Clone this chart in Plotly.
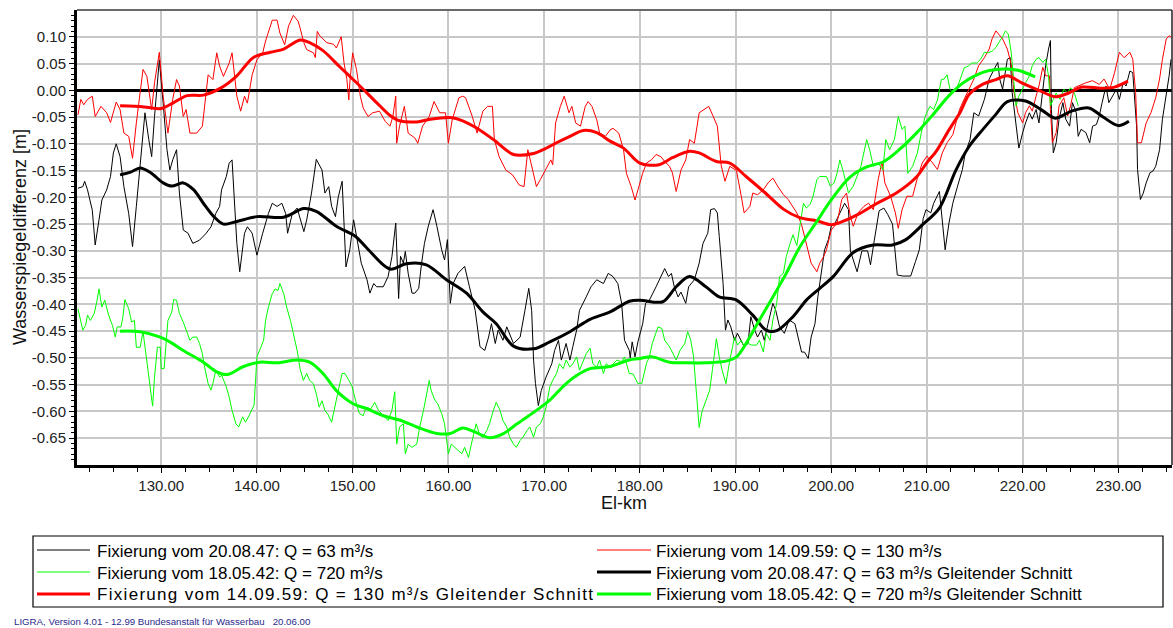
import numpy as np
import plotly.graph_objects as go

FONT = "Liberation Sans, Arial, sans-serif"

# ---------------------------------------------------------------------------
# Wasserspiegeldifferenz [m] über El-km, Einzelwerte (km, Differenz)
# ---------------------------------------------------------------------------
FIX_1947 = [
    (121.3, -0.183), (121.8, -0.180), (122.0, -0.170), (122.3, -0.186), (122.8, -0.224),
    (123.1, -0.289), (123.5, -0.242), (123.8, -0.205), (124.3, -0.186), (124.7, -0.161),
    (125.0, -0.117), (125.3, -0.100), (125.7, -0.124), (126.1, -0.180), (126.6, -0.230),
    (127.0, -0.292), (127.4, -0.217), (128.0, -0.099), (128.3, -0.042), (128.7, -0.092),
    (129.0, -0.124), (129.3, -0.049), (129.8, 0.057), (130.2, -0.024), (130.6, -0.111),
    (130.9, -0.149), (131.2, -0.130), (131.6, -0.111), (131.9, -0.192), (132.3, -0.261),
    (132.8, -0.267), (133.3, -0.286), (134.0, -0.280), (134.7, -0.267), (135.2, -0.255),
    (135.7, -0.230), (136.1, -0.217), (136.3, -0.186), (136.8, -0.161), (137.1, -0.136),
    (137.4, -0.130), (137.9, -0.286), (138.2, -0.339), (138.7, -0.267), (139.0, -0.255),
    (139.5, -0.267), (140.0, -0.308), (140.6, -0.267), (140.9, -0.248), (141.2, -0.230),
    (141.6, -0.211), (142.1, -0.217), (142.6, -0.211), (143.0, -0.230), (143.2, -0.267),
    (143.7, -0.230), (144.2, -0.220), (144.9, -0.264), (145.2, -0.242), (145.7, -0.192),
    (146.2, -0.129), (146.8, -0.149), (147.1, -0.192), (147.5, -0.180), (147.8, -0.217),
    (148.2, -0.236), (148.5, -0.199), (148.9, -0.170), (149.3, -0.330), (149.7, -0.298),
    (150.1, -0.242), (150.4, -0.273), (150.9, -0.323), (151.5, -0.354), (151.8, -0.379),
    (152.2, -0.361), (152.5, -0.367), (153.2, -0.367), (153.7, -0.348), (154.1, -0.311),
    (154.5, -0.248), (154.8, -0.389), (155.0, -0.310), (155.3, -0.323), (155.5, -0.301),
    (155.8, -0.342), (156.2, -0.379), (156.5, -0.379), (156.9, -0.370), (157.2, -0.323),
    (157.5, -0.286), (157.9, -0.254), (158.4, -0.223), (158.8, -0.254), (159.3, -0.298),
    (159.6, -0.317), (159.9, -0.279), (160.2, -0.398), (160.5, -0.361), (161.0, -0.342),
    (161.7, -0.329), (162.2, -0.367), (162.8, -0.411), (163.3, -0.479), (163.8, -0.486),
    (164.2, -0.461), (164.5, -0.436), (164.9, -0.473), (165.2, -0.448), (165.7, -0.467),
    (166.1, -0.442), (166.8, -0.473), (167.5, -0.461), (168.0, -0.411), (168.4, -0.370),
    (168.7, -0.411), (168.9, -0.504), (169.1, -0.548), (169.4, -0.589), (169.7, -0.561),
    (170.2, -0.536), (170.8, -0.511), (171.1, -0.486), (171.5, -0.467), (171.8, -0.504),
    (172.3, -0.473), (172.7, -0.504), (173.0, -0.479), (173.4, -0.448), (173.7, -0.411),
    (174.1, -0.398), (174.4, -0.386), (174.9, -0.367), (175.5, -0.354), (176.2, -0.361),
    (176.7, -0.342), (177.2, -0.348), (177.7, -0.361), (178.1, -0.398), (178.4, -0.467),
    (178.9, -0.486), (179.0, -0.500), (179.2, -0.470), (179.5, -0.498), (179.8, -0.470),
    (180.3, -0.436), (180.6, -0.398), (181.0, -0.392), (181.7, -0.367), (182.2, -0.348),
    (182.6, -0.333), (183.0, -0.348), (183.3, -0.342), (183.6, -0.367), (184.0, -0.386),
    (184.3, -0.377), (184.8, -0.398), (185.1, -0.367), (185.7, -0.354), (186.2, -0.323),
    (186.6, -0.286), (187.1, -0.267), (187.4, -0.223), (187.8, -0.221), (188.1, -0.229),
    (188.3, -0.273), (188.7, -0.361), (188.95, -0.448), (189.2, -0.429), (189.5, -0.442),
    (189.9, -0.467), (190.2, -0.454), (190.6, -0.467), (190.9, -0.479), (191.3, -0.473),
    (191.6, -0.423), (192.0, -0.448), (192.3, -0.461), (192.7, -0.448), (193.0, -0.467),
    (193.4, -0.436), (193.9, -0.398), (194.2, -0.411), (194.6, -0.442), (195.1, -0.454),
    (195.6, -0.429), (196.2, -0.436), (196.5, -0.461), (196.9, -0.489), (197.2, -0.489),
    (197.6, -0.501), (197.9, -0.461), (198.3, -0.436), (198.6, -0.386), (199.0, -0.336),
    (199.3, -0.298), (199.7, -0.279), (200.0, -0.254), (200.4, -0.248), (200.7, -0.236),
    (201.1, -0.223), (201.4, -0.211), (201.8, -0.223), (202.0, -0.300), (202.7, -0.339),
    (203.2, -0.300), (203.8, -0.300), (204.1, -0.326), (204.5, -0.280), (205.0, -0.225),
    (205.5, -0.220), (205.9, -0.232), (206.4, -0.250), (206.9, -0.345), (207.5, -0.347),
    (208.3, -0.347), (208.8, -0.320), (209.2, -0.298), (209.6, -0.240), (209.9, -0.223),
    (210.4, -0.229), (210.7, -0.211), (211.3, -0.189), (211.6, -0.248), (211.9, -0.298),
    (212.3, -0.248), (212.7, -0.211), (213.2, -0.179), (213.7, -0.148), (214.0, -0.117),
    (214.5, -0.092), (214.9, -0.042), (215.4, -0.048), (216.0, -0.017), (216.5, 0.021),
    (217.0, 0.039), (217.4, 0.052), (217.6, 0.021), (217.9, 0.002), (218.4, 0.058),
    (218.7, 0.061), (218.9, -0.004), (219.3, -0.067), (219.6, -0.108), (220.0, -0.079),
    (220.3, -0.061), (220.7, -0.042), (221.0, -0.054), (221.4, -0.036), (221.7, -0.061),
    (222.1, 0.000), (222.4, 0.046), (222.7, 0.077), (222.9, 0.093), (223.0, -0.036),
    (223.2, -0.117), (223.5, -0.098), (223.8, -0.054), (224.2, -0.023), (224.5, -0.054),
    (224.9, -0.067), (225.2, -0.023), (225.6, -0.042), (225.8, -0.086), (226.1, -0.073),
    (226.6, -0.079), (227.0, -0.098), (227.3, -0.067), (227.7, -0.064), (228.0, -0.048),
    (228.3, -0.023), (228.7, 0.008), (229.0, -0.023), (229.4, -0.011), (229.8, 0.002),
    (230.1, -0.017), (230.5, 0.014), (230.8, 0.008), (231.2, 0.036), (231.5, 0.033),
    (231.9, -0.067), (232.0, -0.148), (232.3, -0.204), (232.6, -0.192), (232.9, -0.173),
    (233.3, -0.154), (233.6, -0.151), (233.9, -0.142), (234.3, -0.111), (234.6, -0.054),
    (235.0, -0.011), (235.3, 0.027), (235.5, 0.058),
]

FIX_1959 = [
    (121.3, -0.046), (121.6, -0.017), (121.9, -0.027), (122.3, -0.017), (122.8, -0.011),
    (123.1, -0.049), (123.7, -0.030), (124.3, -0.042), (124.7, -0.060), (125.3, -0.022),
    (125.7, -0.036), (126.1, -0.080), (126.6, -0.086), (127.0, -0.127), (127.4, -0.061),
    (128.1, 0.039), (128.5, 0.026), (129.0, -0.036), (129.3, 0.014), (129.8, 0.071),
    (130.2, -0.011), (130.7, -0.080), (131.2, -0.017), (131.6, 0.020), (131.9, 0.008),
    (132.3, -0.049), (132.6, -0.036), (133.0, -0.080), (133.7, -0.080), (134.3, -0.067),
    (134.9, 0.029), (135.4, 0.020), (135.8, 0.070), (136.1, 0.045), (136.5, 0.026),
    (137.1, 0.051), (137.4, 0.070), (137.9, -0.011), (138.3, -0.039), (138.7, -0.011),
    (139.0, -0.024), (139.5, 0.029), (140.0, 0.057), (140.6, 0.070), (140.9, 0.092),
    (141.6, 0.131), (142.1, 0.131), (142.4, 0.107), (142.9, 0.085), (143.3, 0.120),
    (143.8, 0.140), (144.3, 0.129), (144.5, 0.117), (144.9, 0.089), (145.2, 0.076),
    (145.9, 0.070), (146.1, 0.061), (146.3, 0.110), (146.6, 0.101), (147.3, 0.089),
    (148.0, 0.086), (148.3, 0.079), (148.8, 0.100), (149.1, 0.051), (149.4, 0.020),
    (149.6, -0.018), (149.7, 0.014), (150.0, 0.070), (150.4, 0.039), (150.8, -0.011),
    (151.1, -0.033), (151.6, -0.049), (152.1, -0.042), (152.8, -0.039), (153.4, -0.058),
    (153.9, -0.067), (154.2, -0.049), (154.5, -0.011), (154.6, -0.099), (154.9, -0.067),
    (155.4, -0.030), (155.8, -0.080), (156.5, -0.089), (156.8, -0.099), (157.3, -0.067),
    (158.0, -0.049), (158.5, -0.021), (159.1, -0.042), (159.7, -0.042), (160.0, -0.099),
    (160.4, -0.055), (161.1, -0.014), (161.5, -0.011), (161.8, -0.014), (162.5, -0.049),
    (163.0, -0.080), (163.6, -0.039), (164.1, -0.030), (164.6, -0.030), (164.8, -0.092),
    (165.3, -0.124), (166.0, -0.149), (166.7, -0.158), (167.4, -0.177), (167.9, -0.180),
    (168.3, -0.111), (168.8, -0.149), (169.2, -0.180), (169.6, -0.167), (170.1, -0.149),
    (170.7, -0.130), (170.9, -0.139), (171.2, -0.061), (171.7, -0.030), (172.1, -0.011),
    (172.6, -0.042), (172.9, -0.030), (173.3, -0.061), (173.8, -0.067), (174.3, -0.030),
    (174.6, -0.021), (175.0, -0.030), (175.5, -0.055), (175.8, -0.080), (176.4, -0.086),
    (176.9, -0.074), (177.2, -0.071), (177.8, -0.080), (178.3, -0.111), (178.6, -0.155),
    (179.1, -0.180), (179.5, -0.205), (179.8, -0.186), (180.3, -0.155), (180.7, -0.136),
    (181.2, -0.130), (181.7, -0.120), (182.2, -0.124), (182.6, -0.133), (183.1, -0.142),
    (183.4, -0.154), (183.8, -0.189), (184.3, -0.149), (184.8, -0.130), (185.2, -0.092),
    (185.7, -0.099), (186.2, -0.042), (186.7, -0.036), (187.2, -0.030), (187.6, -0.046),
    (188.1, -0.067), (188.5, -0.140), (188.9, -0.170), (189.4, -0.142), (190.1, -0.150),
    (190.6, -0.198), (190.9, -0.229), (191.5, -0.217), (191.8, -0.192), (192.3, -0.195),
    (192.9, -0.186), (193.4, -0.173), (193.9, -0.164), (194.4, -0.179), (195.0, -0.195),
    (195.5, -0.204), (196.0, -0.217), (196.4, -0.229), (196.9, -0.251), (197.4, -0.286),
    (197.9, -0.323), (198.5, -0.339), (198.8, -0.323), (199.2, -0.311), (199.5, -0.298),
    (200.0, -0.261), (200.6, -0.248), (201.1, -0.204), (201.6, -0.192), (202.0, -0.236),
    (202.3, -0.254), (202.8, -0.229), (203.4, -0.217), (203.9, -0.211), (204.4, -0.223),
    (204.9, -0.167), (205.3, -0.133), (205.6, -0.173), (206.2, -0.198), (206.7, -0.229),
    (207.0, -0.258), (207.4, -0.223), (207.9, -0.198), (208.5, -0.198), (209.0, -0.164),
    (209.5, -0.136), (210.0, -0.123), (210.6, -0.136), (211.1, -0.148), (211.6, -0.117),
    (212.1, -0.098), (212.7, -0.083), (213.0, -0.064), (213.4, -0.036), (213.9, -0.016),
    (214.4, 0.002), (214.9, 0.021), (215.4, 0.046), (216.0, 0.061), (216.5, 0.077),
    (216.8, 0.096), (217.2, 0.111), (217.5, 0.105), (217.9, 0.096), (218.4, 0.077),
    (218.8, 0.049), (219.1, -0.004), (219.5, -0.042), (220.0, -0.061), (220.3, -0.042),
    (220.7, -0.029), (221.0, -0.039), (221.4, -0.011), (221.7, 0.008), (222.1, 0.043),
    (222.4, 0.027), (222.8, 0.027), (222.9, -0.036), (223.1, -0.098), (223.5, -0.079),
    (223.8, -0.029), (224.3, -0.014), (224.7, -0.048), (225.0, -0.029), (225.4, 0.005),
    (225.9, 0.009), (226.6, 0.014), (227.3, 0.018), (228.0, 0.011), (228.5, 0.021),
    (229.1, 0.002), (229.6, 0.033), (230.1, 0.071), (230.6, 0.061), (231.2, 0.071),
    (231.5, 0.058), (231.8, -0.004), (232.0, -0.098), (232.4, -0.098), (232.9, -0.061),
    (233.4, -0.042), (233.9, -0.014), (234.3, 0.021), (234.6, 0.058), (235.0, 0.096),
    (235.3, 0.102), (235.5, 0.099),
]

FIX_1942 = [
    (121.3, -0.408), (121.8, -0.448), (122.1, -0.439), (122.3, -0.420), (122.6, -0.430),
    (123.0, -0.417), (123.3, -0.392), (123.5, -0.371), (123.8, -0.405), (124.1, -0.392),
    (124.5, -0.420), (124.9, -0.439), (125.2, -0.461), (125.4, -0.442), (125.8, -0.442),
    (126.0, -0.423), (126.2, -0.391), (126.6, -0.408), (126.9, -0.433), (127.2, -0.430),
    (127.4, -0.480), (127.8, -0.480), (128.1, -0.451), (128.5, -0.504), (128.8, -0.548),
    (129.1, -0.590), (129.3, -0.536), (129.6, -0.480), (129.9, -0.480), (130.0, -0.520),
    (130.3, -0.520), (130.7, -0.430), (131.1, -0.414), (131.3, -0.391), (131.6, -0.392),
    (131.9, -0.417), (132.3, -0.433), (132.6, -0.448), (133.0, -0.467), (133.3, -0.461),
    (133.7, -0.461), (134.0, -0.473), (134.3, -0.492), (134.5, -0.514), (134.9, -0.548),
    (135.2, -0.560), (135.4, -0.548), (135.7, -0.523), (136.1, -0.536), (136.3, -0.532),
    (136.8, -0.554), (137.1, -0.573), (137.4, -0.598), (137.8, -0.623), (138.1, -0.629),
    (138.5, -0.610), (138.8, -0.620), (139.2, -0.607), (139.7, -0.588), (140.0, -0.498),
    (140.4, -0.480), (140.7, -0.467), (140.9, -0.430), (141.2, -0.405), (141.6, -0.380),
    (141.9, -0.371), (142.2, -0.374), (142.4, -0.361), (142.8, -0.380), (143.1, -0.405),
    (143.5, -0.430), (143.9, -0.461), (144.2, -0.486), (144.5, -0.520), (144.85, -0.542),
    (145.2, -0.529), (145.5, -0.542), (145.9, -0.548), (146.2, -0.567), (146.5, -0.592),
    (146.8, -0.580), (147.1, -0.598), (147.4, -0.605), (147.8, -0.620), (148.1, -0.592),
    (148.5, -0.561), (148.9, -0.529), (149.2, -0.529), (149.6, -0.542), (149.9, -0.551),
    (150.4, -0.586), (150.7, -0.604), (151.1, -0.608), (151.4, -0.592), (151.9, -0.595),
    (152.3, -0.583), (152.7, -0.598), (153.0, -0.604), (153.4, -0.611), (153.7, -0.617),
    (154.1, -0.598), (154.4, -0.563), (154.6, -0.661), (154.9, -0.629), (155.3, -0.623),
    (155.5, -0.679), (155.8, -0.661), (156.2, -0.667), (156.7, -0.661), (157.0, -0.629),
    (157.4, -0.598), (157.7, -0.567), (158.0, -0.542), (158.2, -0.561), (158.6, -0.579),
    (158.9, -0.586), (159.3, -0.604), (159.6, -0.623), (160.0, -0.679), (160.3, -0.661),
    (160.7, -0.667), (161.0, -0.673), (161.4, -0.679), (161.7, -0.667), (162.1, -0.686),
    (162.4, -0.661), (162.9, -0.623), (163.3, -0.645), (163.6, -0.648), (164.0, -0.636),
    (164.3, -0.623), (164.7, -0.598), (165.0, -0.583), (165.4, -0.598), (165.7, -0.617),
    (166.1, -0.629), (166.4, -0.648), (166.8, -0.661), (167.1, -0.667), (167.5, -0.654),
    (167.8, -0.648), (168.2, -0.636), (168.5, -0.629), (168.9, -0.648), (169.2, -0.629),
    (169.6, -0.623), (169.9, -0.611), (170.2, -0.593), (170.6, -0.554), (170.9, -0.542),
    (171.3, -0.529), (171.6, -0.511), (172.0, -0.520), (172.3, -0.504), (172.7, -0.517),
    (173.0, -0.511), (173.4, -0.498), (173.7, -0.523), (174.1, -0.504), (174.4, -0.492),
    (174.8, -0.482), (175.1, -0.511), (175.5, -0.517), (175.8, -0.504), (176.2, -0.529),
    (176.5, -0.511), (176.9, -0.517), (177.2, -0.511), (177.6, -0.504), (178.1, -0.507),
    (178.4, -0.498), (178.9, -0.529), (179.3, -0.530), (179.8, -0.548), (180.2, -0.548),
    (180.7, -0.510), (181.0, -0.498), (181.3, -0.473), (181.9, -0.442), (182.3, -0.445),
    (182.6, -0.467), (183.1, -0.479), (183.5, -0.495), (183.8, -0.504), (184.2, -0.486),
    (184.7, -0.473), (185.0, -0.451), (185.3, -0.465), (185.6, -0.495), (186.2, -0.630),
    (186.5, -0.600), (186.9, -0.580), (187.3, -0.560), (187.6, -0.520), (188.0, -0.464),
    (188.3, -0.498), (188.6, -0.523), (189.0, -0.548), (189.4, -0.504), (189.9, -0.461),
    (190.2, -0.476), (190.6, -0.467), (190.9, -0.479), (191.3, -0.473), (191.7, -0.476),
    (192.2, -0.476), (192.5, -0.467), (192.9, -0.489), (193.2, -0.454), (193.6, -0.467),
    (193.9, -0.429), (194.3, -0.398), (194.6, -0.348), (195.0, -0.342), (195.3, -0.311),
    (195.7, -0.286), (196.0, -0.270), (196.4, -0.290), (196.7, -0.255), (197.1, -0.211),
    (197.4, -0.220), (197.8, -0.213), (198.1, -0.198), (198.5, -0.167), (198.8, -0.161),
    (199.5, -0.161), (199.9, -0.179), (200.3, -0.173), (200.6, -0.155), (200.9, -0.130),
    (201.3, -0.155), (201.8, -0.192), (202.3, -0.179), (202.7, -0.161), (203.1, -0.142),
    (203.7, -0.092), (204.0, -0.110), (204.4, -0.142), (204.9, -0.136), (205.4, -0.149),
    (205.7, -0.092), (206.1, -0.111), (206.6, -0.092), (207.0, -0.049), (207.4, -0.073),
    (207.7, -0.067), (208.0, -0.155), (208.5, -0.142), (209.0, -0.117), (209.4, -0.080),
    (209.8, -0.049), (210.3, -0.030), (210.7, -0.036), (211.1, -0.018), (211.5, 0.020),
    (211.8, 0.021), (212.1, 0.029), (212.4, 0.002), (212.7, -0.005), (213.1, 0.002),
    (213.5, 0.021), (213.9, 0.042), (214.3, 0.045), (214.7, 0.051), (215.2, 0.051),
    (215.6, 0.058), (216.0, 0.071), (216.4, 0.070), (216.8, 0.073), (217.2, 0.080),
    (217.6, 0.092), (217.9, 0.100), (218.2, 0.111), (218.5, 0.105), (218.8, 0.071),
    (219.1, 0.002), (219.3, -0.029), (219.6, -0.011), (220.0, 0.005), (220.3, 0.014),
    (220.7, 0.027), (221.0, 0.046), (221.4, 0.058), (221.7, 0.061), (222.1, 0.052),
    (222.4, 0.058), (222.7, 0.027), (222.9, -0.029), (223.2, -0.017), (223.5, -0.005),
    (223.9, -0.017), (224.3, 0.002), (224.7, -0.005), (225.0, 0.005), (225.4, -0.005),
    (225.8, -0.029),
]

# Gleitender Schnitt (km, Differenz)
MEAN_1947 = [
    (125.7, -0.158), (126.8, -0.153), (127.8, -0.145), (128.9, -0.154), (130.2, -0.173),
    (131.1, -0.179), (132.3, -0.173), (133.4, -0.186), (134.4, -0.211), (135.5, -0.236),
    (136.5, -0.250), (137.9, -0.245), (140.0, -0.236), (142.8, -0.237), (144.9, -0.221),
    (146.2, -0.226), (148.3, -0.254), (150.3, -0.273), (151.5, -0.295), (153.9, -0.334),
    (155.6, -0.324), (157.7, -0.326), (159.8, -0.354), (161.9, -0.379), (163.6, -0.414),
    (165.0, -0.436), (166.8, -0.478), (168.9, -0.483), (170.6, -0.470), (172.7, -0.451),
    (174.8, -0.428), (176.9, -0.414), (178.9, -0.394), (180.0, -0.392), (182.4, -0.395),
    (183.8, -0.367), (185.2, -0.348), (186.9, -0.367), (188.3, -0.386), (190.1, -0.392),
    (191.8, -0.420), (193.2, -0.448), (194.3, -0.449), (196.0, -0.423), (197.4, -0.392),
    (198.8, -0.370), (200.2, -0.348), (202.3, -0.303), (204.4, -0.289), (206.4, -0.289),
    (207.8, -0.279), (209.6, -0.250), (211.3, -0.220), (213.0, -0.150), (214.4, -0.105),
    (215.8, -0.074), (217.2, -0.045), (218.4, -0.021), (220.3, -0.020), (222.0, -0.037),
    (223.4, -0.052), (225.1, -0.039), (226.9, -0.033), (228.4, -0.050), (230.0, -0.066),
    (231.1, -0.058),
]

MEAN_1959 = [
    (125.7, -0.029), (128.2, -0.031), (130.0, -0.034), (131.3, -0.023), (132.7, -0.010),
    (134.4, -0.009), (136.2, 0.004), (137.9, 0.027), (139.6, 0.061), (141.4, 0.071),
    (142.8, 0.077), (144.5, 0.094), (145.5, 0.089), (146.9, 0.074), (148.7, 0.043),
    (150.3, 0.016), (151.1, 0.002), (152.5, -0.023), (153.9, -0.047), (154.9, -0.057),
    (156.7, -0.059), (158.1, -0.054), (160.2, -0.051), (161.5, -0.057), (162.9, -0.070),
    (164.7, -0.092), (166.8, -0.120), (168.9, -0.118), (169.9, -0.111), (171.3, -0.098),
    (172.7, -0.086), (174.1, -0.075), (175.5, -0.079), (176.9, -0.095), (178.3, -0.108),
    (180.0, -0.136), (182.0, -0.139), (183.4, -0.126), (185.2, -0.114), (186.2, -0.117),
    (188.0, -0.133), (189.4, -0.136), (191.1, -0.161), (193.0, -0.190), (195.0, -0.222),
    (196.7, -0.238), (198.5, -0.244), (200.0, -0.251), (201.2, -0.245), (203.0, -0.230),
    (204.7, -0.212), (206.8, -0.192), (208.9, -0.162), (210.0, -0.135), (211.0, -0.113),
    (212.3, -0.074), (213.5, -0.040), (214.4, -0.008), (215.8, 0.011), (217.2, 0.020),
    (218.4, 0.027), (219.9, 0.014), (221.7, 0.000), (223.4, -0.012), (224.8, -0.005),
    (226.2, 0.006), (228.2, 0.004), (229.6, 0.006), (231.0, 0.017),
]

MEAN_1942 = [
    (125.7, -0.450), (127.8, -0.451), (129.9, -0.461), (130.9, -0.470), (132.3, -0.486),
    (134.4, -0.508), (135.8, -0.526), (136.9, -0.531), (138.6, -0.516), (140.3, -0.508),
    (142.1, -0.509), (144.2, -0.504), (145.5, -0.508), (146.9, -0.529), (148.3, -0.561),
    (150.0, -0.585), (151.5, -0.595), (153.2, -0.608), (154.9, -0.616), (156.7, -0.629),
    (158.8, -0.641), (160.2, -0.641), (161.5, -0.631), (162.6, -0.637), (164.3, -0.649),
    (165.7, -0.642), (167.1, -0.624), (169.2, -0.598), (170.6, -0.579), (172.0, -0.553),
    (173.4, -0.533), (174.8, -0.520), (176.9, -0.516), (178.9, -0.504), (180.0, -0.501),
    (181.3, -0.498), (183.1, -0.508), (184.8, -0.509), (186.9, -0.509), (189.0, -0.506),
    (190.1, -0.498), (191.1, -0.473), (192.5, -0.429), (193.9, -0.386), (195.3, -0.342),
    (196.7, -0.293), (198.5, -0.245), (199.9, -0.207), (201.9, -0.163), (203.7, -0.143),
    (205.4, -0.134), (207.1, -0.111), (208.9, -0.080), (210.6, -0.046), (212.3, -0.010),
    (213.7, 0.013), (215.1, 0.028), (216.5, 0.037), (218.2, 0.040), (219.6, 0.037),
    (221.3, 0.025),
]

NAMES = [
    "Fixierung vom 20.08.47: Q = 63 m³/s",
    "Fixierung vom 14.09.59: Q = 130 m³/s",
    "Fixierung vom 18.05.42: Q = 720 m³/s",
    "Fixierung vom 20.08.47: Q = 63 m³/s Gleitender Schnitt",
    "Fixierung vom 14.09.59: Q = 130 m³/s Gleitender Schnitt",
    "Fixierung vom 18.05.42: Q = 720 m³/s Gleitender Schnitt",
]
SERIES = [FIX_1947, FIX_1959, FIX_1942, MEAN_1947, MEAN_1959, MEAN_1942]
COLORS = ["#000000", "#ff0000", "#00ff00", "#000000", "#ff0000", "#00ff00"]
WIDTHS = [1.0, 1.0, 1.0, 3.0, 3.0, 3.0]
SMOOTH = [False, False, False, True, True, True]

X_TICKS = [130, 140, 150, 160, 170, 180, 190, 200, 210, 220, 230]
Y_TICKS = [0.10, 0.05, 0.00, -0.05, -0.10, -0.15, -0.20, -0.25, -0.30,
           -0.35, -0.40, -0.45, -0.50, -0.55, -0.60, -0.65]
X_RANGE = [121.2, 235.6]
Y_RANGE = [-0.70, 0.15]

# page geometry (pixels)
W, H = 1173, 628
L, R, T, B = 77, 1, 10, 163
PW, PH = W - L - R, H - T - B


def px(x):
    return (x - L) / PW


def py(y):
    return (H - B - y) / PH


fig = go.Figure()
for pts, name, col, lw, smooth in zip(SERIES, NAMES, COLORS, WIDTHS, SMOOTH):
    km, val = zip(*pts)
    line = dict(color=col, width=lw)
    if smooth:
        line.update(shape="spline", smoothing=0.9)
    fig.add_trace(go.Scatter(
        x=list(km), y=list(val), mode="lines", name=name,
        line=line, showlegend=False,
        hovertemplate="%{x:.2f} km: %{y:.3f} m<extra></extra>",
    ))

# legend drawn as a framed two-column table below the plot
shapes = [
    dict(type="rect", xref="paper", yref="paper",
         x0=px(33), x1=px(1163), y0=py(536), y1=py(607),
         line=dict(color="#000000", width=1.2), fillcolor="rgba(0,0,0,0)"),
    # top and right frame of the plot area
    dict(type="line", xref="paper", yref="paper", x0=0, x1=1, y0=1, y1=1,
         line=dict(color="#6a6a6a", width=2)),
    dict(type="line", xref="paper", yref="paper", x0=1, x1=1, y0=0, y1=1,
         line=dict(color="#222222", width=1.5)),
]
annotations = []
rows = [550, 572, 594]
cols = [(37, 90, 95), (597, 651, 654)]
# the last entry of the left column is spread to fill its column
spacing = [0, 0, 0, 0, 1.3, 0]
for i, (name, col, lw) in enumerate(zip(NAMES, COLORS, WIDTHS)):
    r, c = divmod(i, 2)
    x0, x1, xt = cols[c]
    yy = rows[r]
    shapes.append(dict(type="line", xref="paper", yref="paper",
                       x0=px(x0), x1=px(x1), y0=py(yy), y1=py(yy),
                       line=dict(color=col, width=lw)))
    label = name
    if spacing[i]:
        label = f'<span style="letter-spacing:{spacing[i]}px">{name}</span>'
    annotations.append(dict(text=label, xref="paper", yref="paper",
                            x=px(xt), y=py(yy + 1), xanchor="left", yanchor="middle",
                            showarrow=False,
                            font=dict(family=FONT, size=17, color="#000000")))

annotations += [
    dict(text="Wasserspiegeldifferenz [m]", xref="paper", yref="paper",
         x=px(20), y=py(237), textangle=-90, showarrow=False,
         xanchor="center", yanchor="middle",
         font=dict(family=FONT, size=18, color="#111111")),
    dict(text="El-km", xref="paper", yref="paper",
         x=px(624), y=py(503), showarrow=False,
         xanchor="center", yanchor="middle",
         font=dict(family=FONT, size=18, color="#111111")),
    dict(text="LIGRA, Version 4.01 - 12.99 Bundesanstalt für Wasserbau   20.06.00",
         xref="paper", yref="paper", x=px(12), y=py(621), showarrow=False,
         xanchor="left", yanchor="middle",
         font=dict(family=FONT, size=9.7, color="#2a2a8c")),
]

fig.update_layout(
    width=W, height=H,
    margin=dict(l=L, r=R, t=T, b=B, pad=0),
    paper_bgcolor="#ffffff", plot_bgcolor="#ffffff",
    font=dict(family=FONT, size=15, color="#222222"),
    shapes=shapes, annotations=annotations,
    showlegend=False,
    xaxis=dict(
        range=X_RANGE, tickmode="array", tickvals=X_TICKS,
        ticktext=[f"{v:.2f}" for v in X_TICKS],
        showgrid=True, gridcolor="#c8c8c8", gridwidth=2,
        zeroline=False, showline=True, linecolor="#000000", linewidth=3,
        ticks="outside", ticklen=5, tickcolor="#000000", tickwidth=1,
        tickfont=dict(family=FONT, size=15, color="#222222"),
        minor=dict(tickvals=list(np.arange(122.5, 235.1, 2.5)), ticks="outside",
                   ticklen=4, tickcolor="#000000", tickwidth=1, showgrid=False),
    ),
    yaxis=dict(
        range=Y_RANGE, tickmode="array", tickvals=Y_TICKS,
        ticktext=[f"{v:.2f}" for v in Y_TICKS],
        showgrid=True, gridcolor="#c8c8c8", gridwidth=2,
        zeroline=True, zerolinecolor="#000000", zerolinewidth=2.5,
        showline=True, linecolor="#000000", linewidth=3,
        ticks="outside", ticklen=5, tickcolor="#000000", tickwidth=1,
        tickfont=dict(family=FONT, size=15, color="#222222"),
        minor=dict(tickvals=list(np.round(np.arange(-0.69, 0.145, 0.01), 2)),
                   ticks="outside", ticklen=3, tickcolor="#000000", tickwidth=1,
                   showgrid=False),
    ),
)

fig.write_html("out.html")
